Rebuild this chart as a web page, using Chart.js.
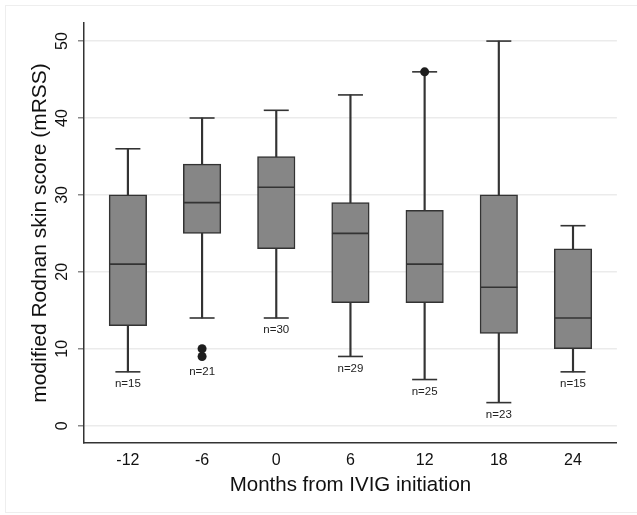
<!DOCTYPE html>
<html>
<head>
<meta charset="utf-8">
<script src="https://cdn.jsdelivr.net/npm/chart.js@4"></script>
<style>
  html, body { margin: 0; padding: 0; background: #fff; }
  #wrap { position: relative; width: 637px; height: 515px; overflow: hidden; }
  #frame { position: absolute; left: 5px; top: 5px; width: 640px; height: 506px; border: 1px solid #eeeeee; }
  canvas { position: absolute; left: 0; top: 0; }
</style>
</head>
<body>
<div id="wrap"><div id="frame"></div><canvas id="boxChart" width="637" height="515"></canvas></div>
<script>
var months = [-12, -6, 0, 6, 12, 18, 24];
var whiskerLow = [7, 14, 14, 9, 6, 3, 7];
var lowerQuartile = [13, 25, 23, 16, 16, 12, 10];
var medians = [21, 29, 31, 25, 21, 18, 14];
var upperQuartile = [30, 34, 35, 29, 28, 30, 23];
var whiskerHigh = [36, 40, 41, 43, 46, 50, 26];
var counts = [15, 21, 30, 29, 25, 23, 15];
var outlierMonths = [-6, -6, 12];
var outlierValues = [10, 9, 46];
var yTicks = [0, 10, 20, 30, 40, 50];

var fontFamily = '"Liberation Sans", Arial, Helvetica, sans-serif';

// y tick labels (rotated) and the n= labels under each box
var labelPlugin = {
  id: 'boxLabels',
  afterDraw: function (chart) {
    var ctx = chart.ctx;
    var xs = chart.scales.x, ys = chart.scales.y;
    ctx.save();
    ctx.fillStyle = '#111';
    ctx.textAlign = 'center';
    ctx.textBaseline = 'middle';
    ctx.font = '16px ' + fontFamily;
    yTicks.forEach(function (v) {
      ctx.save();
      ctx.translate(ys.right - 21, ys.getPixelForValue(v));
      ctx.rotate(-Math.PI / 2);
      ctx.fillText(String(v), 0, 0);
      ctx.restore();
    });
    ctx.font = '11.5px ' + fontFamily;
    ctx.fillStyle = '#222';
    months.forEach(function (m, i) {
      var low = whiskerLow[i], gap = 12;
      outlierMonths.forEach(function (om, j) {
        if (om === m && outlierValues[j] < low) { low = outlierValues[j]; gap = 15; }
      });
      ctx.fillText('n=' + counts[i], xs.getPixelForValue(m), ys.getPixelForValue(low) + gap);
    });
    ctx.restore();
  }
};

var caps = [];
months.forEach(function (m, i) {
  caps.push({ x: m, y: whiskerLow[i] });
  caps.push({ x: m, y: whiskerHigh[i] });
});

var chart = new Chart(document.getElementById('boxChart').getContext('2d'), {
  type: 'bar',
  data: {
    datasets: [
      {
        type: 'scatter',
        data: outlierMonths.map(function (m, j) { return { x: m, y: outlierValues[j] }; }),
        pointStyle: 'circle',
        pointRadius: 4.5,
        pointHoverRadius: 4.5,
        pointBackgroundColor: '#1e1e1e',
        pointBorderColor: '#1e1e1e',
        pointBorderWidth: 0,
        order: 0
      },
      {
        type: 'scatter',
        data: months.map(function (m, i) { return { x: m, y: medians[i] }; }),
        pointStyle: 'line',
        pointRadius: 18.5,
        pointHoverRadius: 18.5,
        pointBorderColor: '#333',
        pointBorderWidth: 1.6,
        order: 1
      },
      {
        type: 'scatter',
        data: caps,
        pointStyle: 'line',
        pointRadius: 12.5,
        pointHoverRadius: 12.5,
        pointBorderColor: '#333',
        pointBorderWidth: 1.6,
        order: 2
      },
      {
        type: 'bar',
        data: months.map(function (m, i) { return { x: m, y: [lowerQuartile[i], upperQuartile[i]] }; }),
        backgroundColor: '#868686',
        borderColor: '#333',
        borderWidth: 1.5,
        borderSkipped: false,
        barThickness: 37.5,
        grouped: false,
        order: 3
      },
      {
        type: 'bar',
        data: months.map(function (m, i) { return { x: m, y: [whiskerLow[i], whiskerHigh[i]] }; }),
        backgroundColor: '#333',
        borderWidth: 0,
        barThickness: 1.5,
        grouped: false,
        order: 4
      }
    ]
  },
  options: {
    responsive: false,
    animation: false,
    events: [],
    layout: { padding: { top: 23, right: 10, left: 0, bottom: 0 } },
    plugins: { legend: { display: false }, tooltip: { enabled: false } },
    scales: {
      x: {
        type: 'linear',
        offset: false,
        min: -15.55,
        max: 27.55,
        afterBuildTicks: function (s) { s.ticks = months.map(function (v) { return { value: v }; }); },
        afterFit: function (s) { s.height = 72; },
        grid: { display: false, drawTicks: false },
        border: { display: true, color: '#333', width: 1.5 },
        ticks: { color: '#111', font: { size: 16, family: fontFamily }, padding: 8, maxRotation: 0, autoSkip: false },
        title: {
          display: true,
          text: 'Months from IVIG initiation',
          color: '#111',
          font: { size: 20.5, family: fontFamily },
          padding: { top: 0, bottom: 17.7 }
        }
      },
      y: {
        min: -2.25,
        max: 52.35,
        afterBuildTicks: function (s) { s.ticks = yTicks.map(function (v) { return { value: v }; }); },
        afterFit: function (s) { s.width = 84; },
        grid: { color: '#ebebeb', lineWidth: 1.5, tickColor: '#8a8a8a', tickLength: 6, tickWidth: 1.5 },
        border: { color: '#333', width: 1.5 },
        ticks: { display: false },
        title: {
          display: true,
          text: 'modified Rodnan skin score (mRSS)',
          color: '#111',
          font: { size: 21, family: fontFamily },
          padding: { top: 28, bottom: 0 }
        }
      }
    }
  },
  plugins: [labelPlugin]
});
</script>
</body>
</html>
